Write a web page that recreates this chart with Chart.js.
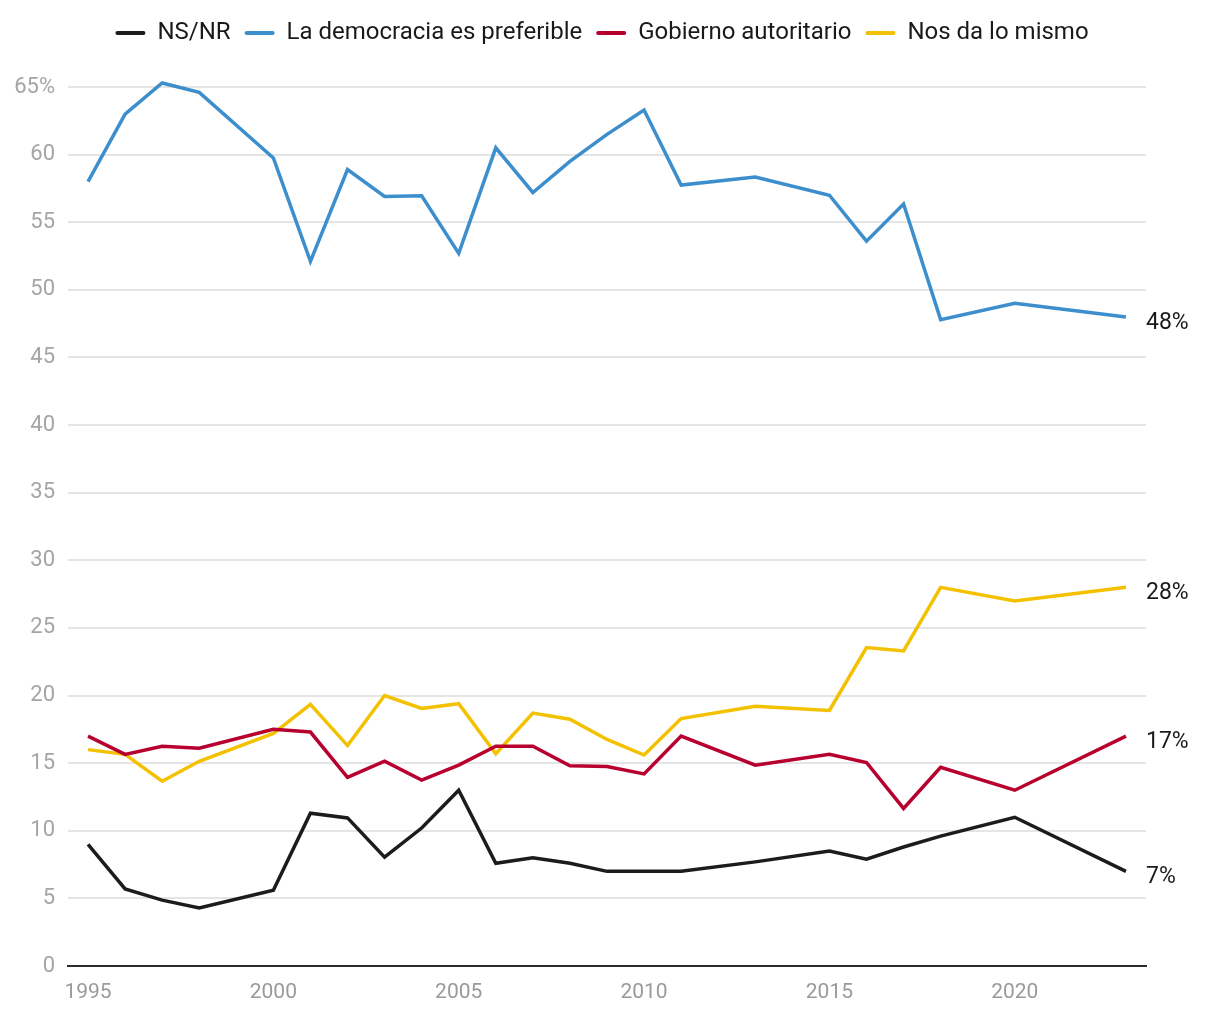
<!DOCTYPE html>
<html>
<head>
<meta charset="utf-8">
<script src="https://cdn.jsdelivr.net/npm/chart.js@4"></script>
<style>
  body { margin: 0; background: #fff; }
  #wrap { width: 1220px; height: 1020px; }
</style>
</head>
<body>
<div id="wrap"><canvas id="chart" width="1220" height="1020"></canvas></div>
<script>
// Survey years (no data for 1999, 2012, 2014, 2019, 2021, 2022)
const years = [1995, 1996, 1997, 1998, 2000, 2001, 2002, 2003, 2004, 2005, 2006, 2007,
    2008, 2009, 2010, 2011, 2013, 2015, 2016, 2017, 2018, 2020, 2023];

const nsnr        = [9.0, 5.7, 4.87, 4.3, 5.6, 11.3, 10.95, 8.05, 10.2, 13.0, 7.6, 8.0,
    7.6, 7.0, 7.0, 7.0, 7.7, 8.5, 7.9, 8.8, 9.6, 11.0, 7.0];
const democracia  = [58.0, 63.0, 65.3, 64.6, 59.75, 52.1, 58.9, 56.9, 56.95, 52.7, 60.5, 57.2,
    59.5, 61.5, 63.3, 57.75, 58.35, 57.0, 53.6, 56.35, 47.8, 49.0, 48.0];
const autoritario = [17.0, 15.65, 16.25, 16.1, 17.5, 17.3, 13.95, 15.15, 13.75, 14.85, 16.25, 16.25,
    14.8, 14.75, 14.2, 17.0, 14.85, 15.65, 15.05, 11.65, 14.7, 13.0, 17.0];
const lomismo     = [16.0, 15.65, 13.66, 15.14, 17.2, 19.35, 16.3, 20.0, 19.05, 19.4, 15.7, 18.7,
    18.25, 16.75, 15.6, 18.3, 19.2, 18.9, 23.55, 23.3, 28.0, 27.0, 28.0];

const seriesNames = ['NS/NR', 'La democracia es preferible', 'Gobierno autoritario', 'Nos da lo mismo'];
const seriesColors = ['#1c1c1c', '#3d8ecd', '#b8002f', '#f4c100'];
const xTicks = [1995, 2000, 2005, 2010, 2015, 2020];
const yTicks = [0, 5, 10, 15, 20, 25, 30, 35, 40, 45, 50, 55, 60, 65];

const toPoints = vals => vals.map((v, i) => ({ x: years[i], y: v }));

const datasets = [nsnr, democracia, autoritario, lomismo].map((vals, i) => ({
    label: seriesNames[i],
    data: toPoints(vals),
    borderColor: seriesColors[i],
    backgroundColor: seriesColors[i],
    borderWidth: 3.5,
    pointRadius: 0,
    tension: 0,
    clip: false
}));

// Extra room between legend and plot, and centre legend on the whole canvas
const legendSpacer = {
    id: 'legendSpacer',
    beforeInit(chart) {
        const fit = chart.legend.fit;
        chart.legend.fit = function () {
            fit.bind(chart.legend)();
            this.height += 32;
        };
    },
    afterLayout(chart) {
        chart.legend.right += 58;
        chart.legend.width += 58;
    }
};

// Value labels at the end of each line
const endLabels = {
    id: 'endLabels',
    afterDatasetsDraw(chart) {
        const ctx = chart.ctx;
        ctx.save();
        ctx.font = '23px Roboto';
        ctx.fillStyle = '#1a1a1a';
        ctx.textBaseline = 'middle';
        ctx.textAlign = 'left';
        chart.data.datasets.forEach((ds, i) => {
            const meta = chart.getDatasetMeta(i);
            const pt = meta.data[meta.data.length - 1];
            const val = ds.data[ds.data.length - 1].y;
            ctx.fillText(Math.round(val) + '%', chart.chartArea.right, pt.y + 6);
        });
        ctx.restore();
    }
};

new Chart(document.getElementById('chart'), {
    type: 'line',
    data: { datasets },
    plugins: [legendSpacer, endLabels],
    options: {
        responsive: false,
        animation: false,
        devicePixelRatio: 1,
        layout: { padding: { top: 7, right: 74, bottom: 0, left: 0 } },
        plugins: {
            tooltip: { enabled: false },
            legend: {
                position: 'top',
                labels: {
                    color: '#1a1a1a',
                    font: { family: 'Roboto', size: 24 },
                    boxWidth: 30,
                    boxHeight: 4,
                    padding: 14,
                    useBorderRadius: true,
                    borderRadius: 2,
                    generateLabels(chart) {
                        return chart.data.datasets.map((ds, i) => ({
                            text: ds.label,
                            fillStyle: ds.borderColor,
                            strokeStyle: ds.borderColor,
                            lineWidth: 0,
                            fontColor: '#1a1a1a',
                            datasetIndex: i,
                            borderRadius: 2
                        }));
                    }
                }
            }
        },
        scales: {
            x: {
                type: 'linear',
                min: 1994.46,
                max: 2023.54,
                afterBuildTicks: axis => { axis.ticks = xTicks.map(v => ({ value: v })); },
                afterFit: axis => { axis.height = 54; },
                grid: { display: false, drawTicks: false },
                border: { display: true, color: '#2b2b2b', width: 2 },
                ticks: {
                    color: '#9a9a9a',
                    font: { family: 'Roboto', size: 21 },
                    padding: 14,
                    maxRotation: 0,
                    callback: v => String(v)
                }
            },
            y: {
                min: 0,
                max: 65,
                afterBuildTicks: axis => { axis.ticks = yTicks.map(v => ({ value: v })); },
                afterFit: axis => { axis.width = 68; },
                grid: { color: '#e5e5e5', lineWidth: 2, drawTicks: false },
                border: { display: false },
                ticks: {
                    color: '#a5a5a5',
                    font: { family: 'Roboto', size: 22 },
                    padding: 13,
                    callback: v => v === 65 ? '65%' : String(v)
                }
            }
        }
    }
});
</script>
</body>
</html>
